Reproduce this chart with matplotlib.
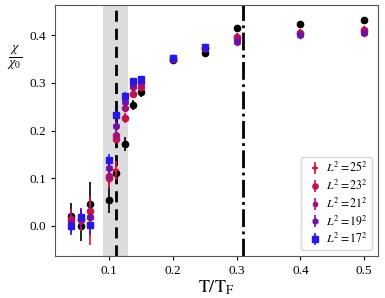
import matplotlib
matplotlib.use("Agg")
import matplotlib.pyplot as plt
import numpy as np

plt.rcParams["font.family"] = ["Liberation Serif", "DejaVu Serif"]
plt.rcParams["mathtext.fontset"] = "stix"

T = [0.04, 0.055, 0.07, 0.1, 0.11, 0.125, 0.1375, 0.15, 0.2, 0.25, 0.3, 0.4, 0.5]

chi_ref = [0.021, 0.0, 0.047, 0.055, 0.110, 0.172, 0.253, 0.281, 0.347, 0.363, 0.414, 0.423, 0.432]
err_ref = [0.027, 0.032, 0.045, 0.028, 0.015, 0.015, 0.010, 0.010, 0.005, 0.005, 0.004, 0.004, 0.004]

sizes = [25, 23, 21, 19, 17]
chi_L = {
    25: [0.015, 0.010, 0.005, 0.100, 0.117, 0.226, 0.276, 0.291, 0.349, 0.372, 0.399, 0.407, 0.412],
    23: [0.015, 0.012, 0.032, 0.100, 0.183, 0.226, 0.276, 0.291, 0.350, 0.373, 0.397, 0.405, 0.410],
    21: [0.010, 0.015, 0.019, 0.105, 0.191, 0.247, 0.291, 0.300, 0.351, 0.374, 0.392, 0.402, 0.407],
    19: [0.005, 0.017, 0.019, 0.121, 0.210, 0.259, 0.297, 0.303, 0.352, 0.375, 0.386, 0.400, 0.404],
    17: [0.000, 0.019, 0.002, 0.138, 0.233, 0.272, 0.303, 0.307, 0.353, 0.376, np.nan, np.nan, np.nan],
}
err_L = {
    25: [0.02, 0.02, 0.045, 0.02, 0.02, 0.01, 0.008, 0.006, 0.004, 0.004, 0.005, 0.004, 0.004],
    23: [0.02, 0.02, 0.03, 0.015, 0.01, 0.008, 0.006, 0.005, 0.004, 0.004, 0.004, 0.004, 0.004],
    21: [0.02, 0.02, 0.025, 0.015, 0.01, 0.008, 0.006, 0.005, 0.004, 0.004, 0.004, 0.004, 0.004],
    19: [0.02, 0.02, 0.02, 0.012, 0.01, 0.008, 0.006, 0.005, 0.004, 0.004, 0.004, 0.004, 0.004],
    17: [0.02, 0.015, 0.02, 0.012, 0.008, 0.008, 0.006, 0.005, 0.004, 0.004, np.nan, np.nan, np.nan],
}
colors = {25: "#ea1030", 23: "#c8104e", 21: "#a0127a", 19: "#7010a8", 17: "#2818e8"}
markers = {25: "+", 23: "o", 21: "8", 19: "h", 17: "s"}

fig = plt.figure(figsize=(3.85, 2.98), dpi=100)
ax = fig.add_axes([0.143, 0.141, 0.839, 0.842])

ax.axvspan(0.09, 0.13, color="#dcdcdc", zorder=0, lw=0)
ax.axvline(0.11, color="black", ls=(0, (4, 2.5)), lw=2, zorder=1)
ax.axvline(0.31, color="black", ls="-.", lw=2, zorder=1)

ax.errorbar(T, chi_ref, yerr=err_ref, fmt="o", color="black", ms=4.5, lw=1.2, zorder=3)
for L in sizes:
    ms = 5 if markers[L] == "+" else 4.5
    ax.errorbar(T, chi_L[L], yerr=err_L[L], fmt=markers[L], color=colors[L], ms=ms,
                mew=1.5 if markers[L] == "+" else 1, lw=1.2, zorder=4,
                label=rf"$L^2={L}^2$")

ax.set_xlim(0.015, 0.522)
ax.set_ylim(-0.063, 0.463)
ax.set_xticks([0.1, 0.2, 0.3, 0.4, 0.5])
ax.set_yticks([0.0, 0.1, 0.2, 0.3, 0.4])
ax.tick_params(labelsize=9.5, length=3)
for s in ax.spines.values():
    s.set_color("#555555")

ax.set_xlabel(r"$\mathrm{T/T_F}$", fontsize=13, labelpad=1)
ax.set_ylabel(r"$\frac{\chi}{\chi_0}$", fontsize=14, rotation=0, va="center")
ax.yaxis.set_label_coords(-0.125, 0.79)
ax.legend(loc="lower right", fontsize=8.5, markerscale=0.85, handletextpad=0.2,
          handlelength=1.6, borderpad=0.35, labelspacing=0.3)

fig.savefig("out.png", dpi=100)
